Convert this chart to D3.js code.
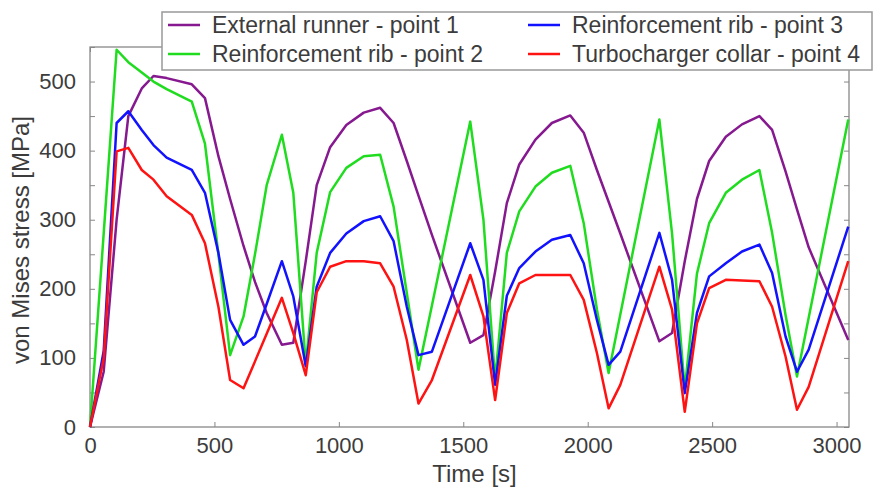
<!DOCTYPE html>
<html>
<head>
<meta charset="utf-8">
<script src="https://cdn.jsdelivr.net/npm/d3@7"></script>
<style>
  body { margin: 0; background: #fff; }
  svg { display: block; font-family: "Liberation Sans", Arial, sans-serif; }
</style>
</head>
<body>
<svg id="chart" width="874" height="490"></svg>
<script>
// time samples [s]
const time = [0, 55, 107, 154, 208, 255, 308, 409, 462, 516, 563, 617, 663, 710, 771, 817, 867, 911, 965, 1030,
  1100, 1166, 1220, 1273, 1320, 1374, 1528, 1581, 1628, 1675, 1725, 1790, 1856, 1930, 1984, 2037, 2084, 2131,
  2288, 2339, 2390, 2439, 2488, 2555, 2620, 2690, 2741, 2795, 2841, 2888, 3047];

// von Mises stress [MPa] for each point
const point1 = [0, 80, 300, 450, 490, 508, 505, 496, 476, 392, 330, 262, 210, 165, 119, 122, 240, 350, 405, 437,
  455, 462, 440, 385, 335, 278, 122, 133, 225, 324, 380, 416, 440, 451, 426, 372, 326, 280,
  124, 136, 240, 330, 385, 420, 438, 450, 430, 370, 315, 260, 126];
const point2 = [0, 280, 546, 528, 513, 500, 489, 471, 410, 250, 104, 160, 250, 350, 423, 339, 90, 252, 340, 375,
  392, 394, 319, 194, 83, 176, 442, 300, 68, 252, 312, 348, 368, 378, 295, 170, 78, 163,
  445, 280, 55, 222, 295, 339, 358, 372, 281, 162, 73, 158, 445];
const point3 = [0, 110, 440, 457, 430, 408, 390, 372, 339, 252, 155, 119, 131, 178, 240, 189, 88, 203, 252, 280,
  298, 305, 269, 174, 104, 109, 266, 213, 61, 190, 230, 254, 271, 278, 237, 155, 90, 109,
  281, 213, 49, 165, 218, 237, 254, 264, 223, 131, 80, 112, 290];
const point4 = [0, 100, 399, 404, 372, 358, 334, 307, 266, 174, 68, 56, 95, 135, 187, 136, 75, 195, 232, 240,
  240, 237, 203, 126, 34, 68, 220, 160, 39, 165, 208, 220, 220, 220, 184, 107, 27, 61,
  232, 170, 22, 150, 201, 213, 212, 211, 174, 102, 25, 58, 240];

const seriesNames = ["External runner - point 1", "Reinforcement rib - point 2",
  "Reinforcement rib - point 3", "Turbocharger collar - point 4"];
const seriesColors = ["#86198f", "#1fdc1f", "#1212ff", "#ff1212"];
const xTicks = [0, 500, 1000, 1500, 2000, 2500, 3000];
const yTicks = [0, 50, 100, 150, 200, 250, 300, 350, 400, 450, 500, 550];

const series = [point1, point2, point3, point4].map((vals, i) => ({
  name: seriesNames[i],
  color: seriesColors[i],
  values: vals.map((v, j) => ({ t: time[j], v: v }))
}));

const margin = { left: 90, right: 25, top: 47, bottom: 63 };
const width = 874, height = 490;
const svg = d3.select("#chart");

const x = d3.scaleLinear().domain([0, 3050]).range([margin.left, width - margin.right]);
const y = d3.scaleLinear().domain([0, 550]).range([height - margin.bottom, margin.top]);

const textColor = "#3c3c3c";
const frameColor = "#888";

// axes (ticks point inward)
const fmtY = d => (d % 100 === 0 ? d : "");
svg.append("g")
  .attr("transform", `translate(0,${y(0)})`)
  .call(d3.axisBottom(x).tickValues(xTicks).tickFormat(d3.format("d"))
    .tickSizeInner(-5).tickSizeOuter(0).tickPadding(10))
  .call(g => g.select(".domain").remove());
svg.append("g")
  .attr("transform", `translate(${x.range()[0]},0)`)
  .call(d3.axisLeft(y).tickValues(yTicks).tickFormat(fmtY).tickSizeInner(-5).tickSizeOuter(0).tickPadding(14))
  .call(g => g.select(".domain").remove());
svg.append("g")
  .attr("transform", `translate(${x.range()[1]},0)`)
  .call(d3.axisRight(y).tickValues(yTicks).tickFormat("").tickSizeInner(-5).tickSizeOuter(0))
  .call(g => g.select(".domain").remove());
svg.append("g")
  .attr("transform", `translate(0,${y.range()[1]})`)
  .call(d3.axisTop(x).tickValues(xTicks).tickFormat("").tickSizeInner(-5).tickSizeOuter(0))
  .call(g => g.select(".domain").remove());

svg.selectAll(".tick line").attr("stroke", frameColor);
svg.selectAll(".tick text")
  .attr("fill", textColor)
  .style("font-size", "22px")
  .style("font-family", "'Liberation Sans', Arial, sans-serif");

// frame
svg.append("rect")
  .attr("x", x.range()[0]).attr("y", y.range()[1])
  .attr("width", x.range()[1] - x.range()[0])
  .attr("height", y.range()[0] - y.range()[1])
  .attr("fill", "none").attr("stroke", frameColor).attr("stroke-width", 1.3);

// lines
const line = d3.line().x(d => x(d.t)).y(d => y(d.v));
svg.append("g")
  .selectAll("path")
  .data(series)
  .enter()
  .append("path")
  .attr("d", d => line(d.values))
  .attr("fill", "none")
  .attr("stroke", d => d.color)
  .attr("stroke-width", 2.5)
  .attr("stroke-linejoin", "round");

// axis titles
svg.append("text")
  .attr("x", (x.range()[0] + x.range()[1]) / 2 + 5)
  .attr("y", 482)
  .attr("text-anchor", "middle")
  .attr("fill", textColor)
  .style("font-size", "24px")
  .text("Time [s]");
svg.append("text")
  .attr("transform", `translate(29,240) rotate(-90)`)
  .attr("text-anchor", "middle")
  .attr("fill", textColor)
  .style("font-size", "24px")
  .text("von Mises stress [MPa]");

// legend
const legend = svg.append("g");
legend.append("rect")
  .attr("x", 162).attr("y", 12).attr("width", 710).attr("height", 58)
  .attr("fill", "#fff").attr("stroke", "#999").attr("stroke-width", 1.5);
const legendPos = [[168, 25], [168, 54], [528, 25], [528, 54]];
const items = legend.selectAll("g.item")
  .data(series)
  .enter()
  .append("g")
  .attr("class", "item")
  .attr("transform", (d, i) => `translate(${legendPos[i][0]},${legendPos[i][1]})`);
items.append("line")
  .attr("x1", 0).attr("x2", 32)
  .attr("stroke", d => d.color).attr("stroke-width", 2.5);
items.append("text")
  .attr("x", 44)
  .attr("dy", "0.36em")
  .attr("fill", textColor)
  .style("font-size", "23px")
  .text(d => d.name);
</script>
</body>
</html>
